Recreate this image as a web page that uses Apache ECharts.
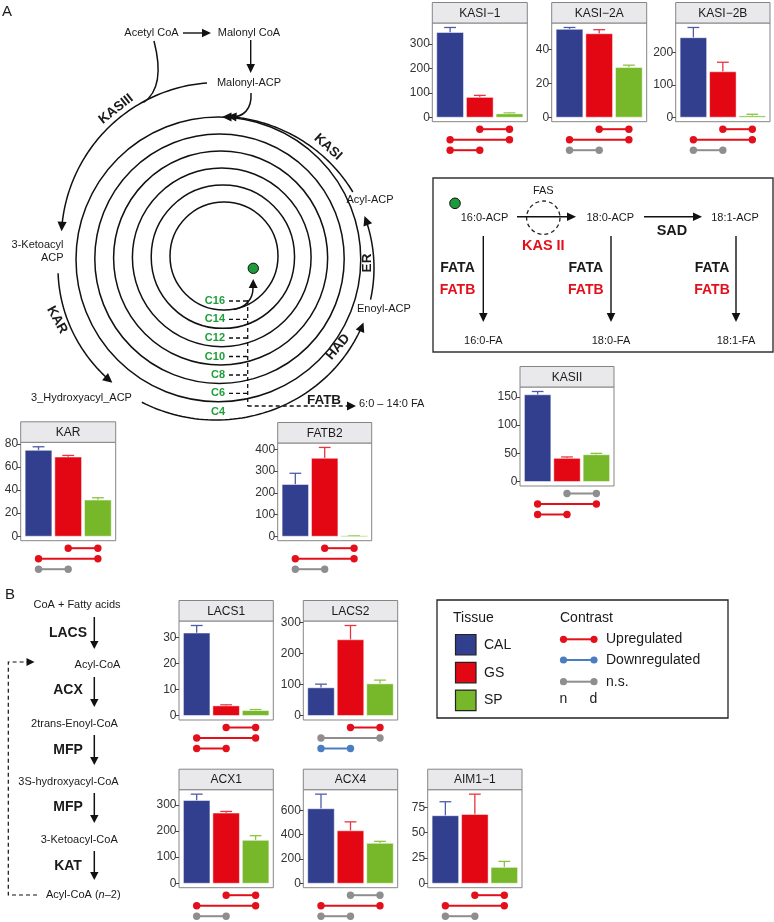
<!DOCTYPE html>
<html><head><meta charset="utf-8">
<script src="https://cdn.jsdelivr.net/npm/echarts@6.0.0/dist/echarts.min.js"></script>
<style>html,body{margin:0;padding:0;background:#fff}#c{width:774px;height:922px}</style>
</head><body><div id="c"></div>
<script>
// ---------------- DATA ----------------
const tissues = ['CAL', 'GS', 'SP'];
const contrastPairs = [[2, 3], [1, 3], [1, 2]]; // GS–SP, CAL–SP, CAL–GS
const geneNames = ['KASI−1', 'KASI−2A', 'KASI−2B', 'KASII', 'KAR', 'FATB2', 'LACS1', 'LACS2', 'ACX1', 'ACX4', 'AIM1−1'];

const kasi1Mean = [347.5, 81.4, 13.6],  kasi1Err = [368, 89.6, 17.6],   kasi1Ticks = [0, 100, 200, 300],     kasi1Sig = ['up', 'up', 'up'];
const kasi2aMean = [52.0, 49.4, 29.4],  kasi2aErr = [53.1, 51.8, 30.8], kasi2aTicks = [0, 20, 40],           kasi2aSig = ['up', 'up', 'ns'];
const kasi2bMean = [245, 140, 4],       kasi2bErr = [276.5, 169.4, 9.2], kasi2bTicks = [0, 100, 200],        kasi2bSig = ['up', 'up', 'ns'];
const kasiiMean = [153.5, 41, 47.4],    kasiiErr = [159.3, 43.4, 49.8], kasiiTicks = [0, 50, 100, 150],      kasiiSig = ['ns', 'up', 'up'];
const karMean = [74.3, 68.5, 31.3],     karErr = [77.4, 69.9, 33.3],    karTicks = [0, 20, 40, 60, 80],      karSig = ['up', 'up', 'ns'];
const fatb2Mean = [238.5, 359, 2],      fatb2Err = [290, 409, 3],       fatb2Ticks = [0, 100, 200, 300, 400], fatb2Sig = ['up', 'up', 'ns'];
const lacs1Mean = [31.7, 3.7, 1.9],     lacs1Err = [34.6, 4.1, 2.3],    lacs1Ticks = [0, 10, 20, 30],        lacs1Sig = ['up', 'up', 'up'];
const lacs2Mean = [89.2, 244, 102],     lacs2Err = [101, 290, 114],     lacs2Ticks = [0, 100, 200, 300],     lacs2Sig = ['up', 'ns', 'down'];
const acx1Mean = [316.5, 268.2, 164],   acx1Err = [340.7, 274.6, 181.8], acx1Ticks = [0, 100, 200, 300],     acx1Sig = ['up', 'up', 'ns'];
const acx4Mean = [613, 431.6, 328.4],   acx4Err = [733, 505, 344.7],    acx4Ticks = [0, 200, 400, 600],      acx4Sig = ['ns', 'up', 'ns'];
const aim1Mean = [66.8, 68.1, 15.7],    aim1Err = [80.6, 88.1, 21.6],   aim1Ticks = [0, 25, 50, 75],         aim1Sig = ['up', 'up', 'ns'];

const geneMeans = [kasi1Mean, kasi2aMean, kasi2bMean, kasiiMean, karMean, fatb2Mean, lacs1Mean, lacs2Mean, acx1Mean, acx4Mean, aim1Mean];
const geneErrs  = [kasi1Err, kasi2aErr, kasi2bErr, kasiiErr, karErr, fatb2Err, lacs1Err, lacs2Err, acx1Err, acx4Err, aim1Err];
const geneTicks = [kasi1Ticks, kasi2aTicks, kasi2bTicks, kasiiTicks, karTicks, fatb2Ticks, lacs1Ticks, lacs2Ticks, acx1Ticks, acx4Ticks, aim1Ticks];
const geneSigs  = [kasi1Sig, kasi2aSig, kasi2bSig, kasiiSig, karSig, fatb2Sig, lacs1Sig, lacs2Sig, acx1Sig, acx4Sig, aim1Sig];

// ---------------- LAYOUT / STYLE ----------------
const panelBox = [ // left, top, width, height of plotting panel
  [432.3, 23, 95, 98.7], [551.7, 23, 95, 98.7], [675.7, 23, 94.3, 98.7],
  [520, 387, 94, 99], [20.7, 442.3, 95, 98.4], [277.7, 443, 94, 97.7],
  [179, 621, 94.3, 99], [303.3, 621, 94.4, 99],
  [179, 789.7, 94.3, 98], [303.3, 789.7, 94.4, 98], [427.7, 789.7, 94.3, 98]
];
const STRIP_H = 20.5;
const FF = "'Liberation Sans', Arial, Helvetica, sans-serif";
const tissueColor = ['#323f8e', '#e30613', '#77b82b'];
const errColor = ['#4d5ca8', '#e83540', '#8cc343'];
const sigColor = { up: '#e3101b', down: '#4a7dc2', ns: '#8e8e8e' };

const chart = echarts.init(document.getElementById('c'), null, { renderer: 'canvas', width: 774, height: 922 });

const grids = [], xAxes = [], yAxes = [], series = [], G = [];

geneNames.forEach((name, i) => {
  const [L, Tp, W, H] = panelBox[i];
  const mx = Math.max(...geneErrs[i]);
  grids.push({ left: L, top: Tp, width: W, height: H, show: true, borderColor: '#858585', borderWidth: 1, backgroundColor: '#fff' });
  grids.push({ left: L, top: Tp + H + 2.25, width: W, height: 31.5, show: false });
  xAxes.push({ gridIndex: 2 * i, type: 'value', min: 0.4, max: 3.6, show: false });
  xAxes.push({ gridIndex: 2 * i + 1, type: 'value', min: 0.4, max: 3.6, show: false });
  yAxes.push({
    gridIndex: 2 * i, type: 'value', min: -0.05 * mx, max: 1.05 * mx,
    axisLine: { show: false }, splitLine: { show: false },
    axisTick: { show: true, length: 3.5, customValues: geneTicks[i], lineStyle: { color: '#444', width: 1 } },
    axisLabel: { customValues: geneTicks[i], fontSize: 12, color: '#333', margin: 2.5, fontFamily: FF }
  });
  yAxes.push({ gridIndex: 2 * i + 1, type: 'value', min: 0.5, max: 3.5, inverse: true, show: false });

  series.push({
    type: 'custom', xAxisIndex: 2 * i, yAxisIndex: 2 * i,
    data: geneMeans[i].map((m, j) => [j + 1, m, geneErrs[i][j], j]),
    renderItem: (params, api) => {
      const x = api.value(0), m = api.value(1), e = api.value(2), j = api.value(3);
      const p0 = api.coord([x - 0.45, 0]), p1 = api.coord([x + 0.45, m]);
      const pm = api.coord([x, m]), pe = api.coord([x, e]);
      const cw = api.size([0.4, 0])[0];
      return { type: 'group', children: [
        { type: 'line', shape: { x1: pm[0], y1: pm[1], x2: pe[0], y2: pe[1] }, style: { stroke: errColor[j], lineWidth: 1.3 } },
        { type: 'line', shape: { x1: pe[0] - cw / 2, y1: pe[1], x2: pe[0] + cw / 2, y2: pe[1] }, style: { stroke: errColor[j], lineWidth: 1.3 } },
        { type: 'rect', shape: { x: p0[0], y: p1[1], width: p1[0] - p0[0], height: Math.max(p0[1] - p1[1], 0.8) },
          style: { fill: tissueColor[j], stroke: 'rgba(255,255,255,0.55)', lineWidth: 0.9 } }
      ] };
    }
  });
  series.push({
    type: 'custom', xAxisIndex: 2 * i + 1, yAxisIndex: 2 * i + 1, clip: false,
    data: geneSigs[i].map((s, r) => [r + 1, contrastPairs[r][0], contrastPairs[r][1]]),
    renderItem: (params, api) => {
      const r = api.value(0), a = api.value(1), b = api.value(2);
      const c = sigColor[geneSigs[i][params.dataIndex]];
      const pa = api.coord([a, r]), pb = api.coord([b, r]);
      return { type: 'group', children: [
        { type: 'line', shape: { x1: pa[0], y1: pa[1], x2: pb[0], y2: pb[1] }, style: { stroke: c, lineWidth: 2 } },
        { type: 'circle', shape: { cx: pa[0], cy: pa[1], r: 3.7 }, style: { fill: c } },
        { type: 'circle', shape: { cx: pb[0], cy: pb[1], r: 3.7 }, style: { fill: c } }
      ] };
    }
  });
  G.push({ type: 'rect', shape: { x: L, y: Tp - STRIP_H, width: W, height: STRIP_H }, style: { fill: '#e9e9ec', stroke: '#858585', lineWidth: 1 }, z: 5 });
  G.push(txt(L + W / 2, Tp - STRIP_H / 2 + 0.5, name, { fs: 12, c: '#1a1a1a' }));
});

// ---------------- DIAGRAM HELPERS ----------------
function txt(x, y, text, o = {}) {
  return { type: 'text', x, y, rotation: (o.rot || 0) * Math.PI / 180, z: 20,
    style: { text, fontSize: o.fs || 11, fontWeight: o.fw || 'normal', fill: o.c || '#1a1a1a', fontFamily: FF,
      align: o.al || 'center', verticalAlign: 'middle', textAlign: o.al || 'center', textVerticalAlign: 'middle', rich: o.rich } };
}
function T(x, y, text, o) { G.push(txt(x, y, text, o)); }
function line(x1, y1, x2, y2, o = {}) {
  G.push({ type: 'line', z: 15, shape: { x1, y1, x2, y2 }, style: { stroke: o.c || '#111', lineWidth: o.lw || 1.4, lineDash: o.dash || null } });
}
function head(tx, ty, dx, dy, len = 9, hw = 4.3, c = '#111') {
  const d = Math.hypot(dx, dy); dx /= d; dy /= d;
  const bx = tx - dx * len, by = ty - dy * len;
  G.push({ type: 'polygon', z: 16, shape: { points: [[tx, ty], [bx - dy * hw, by + dx * hw], [bx + dy * hw, by - dx * hw]] }, style: { fill: c } });
  return [bx, by];
}
function arrow(x1, y1, x2, y2, o = {}) {
  const len = o.len || 9, d = Math.hypot(x2 - x1, y2 - y1);
  const b = head(x2, y2, x2 - x1, y2 - y1, len, o.hw || 4.3, o.c || '#111');
  line(x1, y1, b[0] + (x2 - x1) / d, b[1] + (y2 - y1) / d, o);
}
function bez(p0, p1, p2, p3, o = {}) {
  G.push({ type: 'bezierCurve', z: 15, shape: { x1: p0[0], y1: p0[1], cpx1: p1[0], cpy1: p1[1], cpx2: p2[0], cpy2: p2[1], x2: p3[0], y2: p3[1] },
    style: { stroke: o.c || '#111', lineWidth: o.lw || 1.4, fill: null } });
}
function poly(pts, o = {}) {
  G.push({ type: 'polyline', z: 15, shape: { points: pts }, style: { stroke: o.c || '#111', lineWidth: o.lw || 1.4, fill: null, lineDash: o.dash || null } });
}
// elliptical arc with decreasing angle (deg), arrowhead at th1
function arcArrow(C, th0, th1, arrowHead) {
  const pt = th => { const t = th * Math.PI / 180; return [C.cx + C.rx * Math.cos(t), C.cy + C.ry * Math.sin(t)]; };
  const stop = arrowHead ? th1 + 9.5 / C.rx * 180 / Math.PI * 0.95 : th1;
  const pts = [], n = 60;
  for (let s = 0; s <= n; s++) pts.push(pt(th0 + (stop - th0) * s / n));
  poly(pts, { lw: 1.5 });
  if (arrowHead) {
    const t = th1 * Math.PI / 180, tip = pt(th1);
    head(tip[0], tip[1], C.rx * Math.sin(t), -C.ry * Math.cos(t), 9.5, 4.6);
  }
}

// ---------------- PANEL A: FAS cycle ----------------
T(7, 12, 'A', { fs: 15 });
T(151.5, 33, 'Acetyl CoA');
arrow(183, 33, 211, 33);
T(249, 33, 'Malonyl CoA');
arrow(250.7, 40, 250.7, 73);
T(249, 83, 'Malonyl-ACP');
// KASIII arc: Malonyl-ACP -> 3-Ketoacyl ACP
const K3 = { cx: 218.8, cy: 240, rx: 157.5, ry: 157.5 };
arcArrow(K3, 265.7, 183.2, true);
// Acetyl CoA curve joining KASIII arc
bez([154, 41], [162, 72], [159, 92], [143.5, 102.5], { lw: 1.5 });
// Malonyl-ACP into the cycle
bez([251, 93], [252, 110], [243, 117], [231, 117], { lw: 1.5 });
head(222, 117, -1, 0, 9.5, 4.6);
// nested rings (C16 ... C6)
for (let k = 0; k < 6; k++) {
  const top = 202 - 17 * k, bot = 310 + 18.35 * k, left = 170 - 18.8 * k;
  const r = (bot - top) / 2;
  G.push({ type: 'circle', z: 14, shape: { cx: left + r, cy: (top + bot) / 2, r }, style: { stroke: '#111', lineWidth: 1.5, fill: null } });
}
// outer (C4) cycle arcs
const E = { cx: 216, cy: 268, rx: 158, ry: 152 };
arcArrow(E, 178, 131, true);   // KAR
arcArrow(E, 118, 21, true);    // HAD
arcArrow(E, 12, -20, true);    // ER
arcArrow(E, -30, -86, true);   // KASI
// enzyme labels
T(116, 109, 'KASIII', { fw: 'bold', fs: 13.5, rot: 38 });
T(328, 147, 'KASI', { fw: 'bold', fs: 13.5, rot: -42 });
T(57, 320, 'KAR', { fw: 'bold', fs: 13.5, rot: -61 });
T(338, 347, 'HAD', { fw: 'bold', fs: 13.5, rot: 50 });
T(367.5, 263, 'ER', { fw: 'bold', fs: 13.5, rot: 90 });
T(370, 200, 'Acyl-ACP');
T(357, 309, 'Enoyl-ACP', { al: 'left' });
T(63.5, 245, '3-Ketoacyl', { al: 'right' });
T(63.5, 258, 'ACP', { al: 'right' });
T(81.5, 397.5, '3_Hydroxyacyl_ACP');
// green dot + hook
G.push({ type: 'circle', z: 17, shape: { cx: 253.3, cy: 268.3, r: 5.2 }, style: { fill: '#1d9a3b', stroke: '#111', lineWidth: 1 } });
bez([234, 309.5], [247, 307], [253, 298], [253, 288], { lw: 1.5 });
head(253.2, 279, 0, -1, 9, 4.5);
// carbon labels
const cLabels = ['C16', 'C14', 'C12', 'C10', 'C8', 'C6', 'C4'];
const cY = [301, 319.3, 338, 356.5, 375, 393.3, 411.7];
cLabels.forEach((l, k) => {
  T(225, cY[k], l, { al: 'right', fw: 'bold', c: '#1f9e3a', fs: 11 });
  if (k < 6) line(229, cY[k], 247.7, cY[k], { dash: [4, 3], lw: 1.3 });
});
line(247.7, 300, 247.7, 406, { dash: [4, 3], lw: 1.3 });
line(247.7, 406, 347, 406, { dash: [4, 3], lw: 1.3 });
head(356, 406, 1, 0, 9, 4.6);
T(324, 400, 'FATB', { fw: 'bold', fs: 13.5 });
T(359, 404, '6:0 – 14:0 FA', { al: 'left' });

// ---------------- FAS / KAS II box ----------------
G.push({ type: 'rect', z: 12, shape: { x: 433, y: 178, width: 340, height: 174 }, style: { fill: null, stroke: '#333', lineWidth: 1.4 } });
G.push({ type: 'circle', z: 17, shape: { cx: 455, cy: 203.3, r: 5.3 }, style: { fill: '#1d9a3b', stroke: '#111', lineWidth: 1 } });
T(484.5, 217.5, '16:0-ACP');
T(610.3, 217.5, '18:0-ACP');
T(735, 217.5, '18:1-ACP');
arrow(517, 216.7, 576, 216.7);
arrow(644, 216.7, 702, 216.7);
G.push({ type: 'circle', z: 14, shape: { cx: 543.3, cy: 217.7, r: 16.7 }, style: { fill: null, stroke: '#222', lineWidth: 1.3, lineDash: [4, 3] } });
T(543.3, 191, 'FAS');
T(543.3, 246, 'KAS II', { fw: 'bold', fs: 14.5, c: '#e3101b' });
T(672, 231, 'SAD', { fw: 'bold', fs: 14.5 });
[[483.3, 457.5, '16:0-FA'], [611, 585.8, '18:0-FA'], [736, 712, '18:1-FA']].forEach(([ax, lx, lab]) => {
  arrow(ax, 236, ax, 322);
  T(lx, 268.5, 'FATA', { fw: 'bold', fs: 14 });
  T(lx, 290.5, 'FATB', { fw: 'bold', fs: 14, c: '#e3101b' });
  T(ax, 341, lab);
});

// ---------------- PANEL B ----------------
T(10, 595, 'B', { fs: 15 });
T(77, 605, 'CoA + Fatty acids');
const bSteps = [['LACS', 617, 649, 633], ['ACX', 677, 707, 690], ['MFP', 735, 765, 750], ['MFP', 793, 823, 807], ['KAT', 851, 880, 866.5]];
bSteps.forEach(([lab, y1, y2, ly]) => { arrow(94.3, y1, 94.3, y2, { len: 8, hw: 4.2, lw: 1.5 }); T(68, ly, lab, { fw: 'bold', fs: 14 }); });
T(97.5, 665, 'Acyl-CoA');
T(74.5, 724.3, '2trans-Enoyl-CoA');
T(68.5, 781.7, '3S-hydroxyacyl-CoA');
T(79.2, 840, '3-Ketoacyl-CoA');
T(83.3, 895, '{a|Acyl-CoA (}{i|n}{a|–2)}', { rich: { a: { fontSize: 11, fontFamily: FF, fill: '#1a1a1a', color: '#1a1a1a' }, i: { fontSize: 11, fontFamily: FF, fontStyle: 'italic', fill: '#1a1a1a', color: '#1a1a1a' } } });
poly([[37, 895], [8.3, 895], [8.3, 662], [27, 662]], { dash: [4, 3], lw: 1.2 });
head(34.5, 662, 1, 0, 8, 4);

// ---------------- LEGEND ----------------
G.push({ type: 'rect', z: 12, shape: { x: 437, y: 600, width: 291, height: 118 }, style: { fill: null, stroke: '#222', lineWidth: 1.3 } });
T(453, 618.5, 'Tissue', { al: 'left', fs: 14 });
T(560, 618.5, 'Contrast', { al: 'left', fs: 14 });
tissues.forEach((t, j) => {
  const y = 634.5 + j * 27.8;
  G.push({ type: 'rect', z: 13, shape: { x: 455.5, y, width: 20.5, height: 20.5 }, style: { fill: tissueColor[j], stroke: '#222', lineWidth: 1.2 } });
  T(484, y + 10.5, t, { al: 'left', fs: 14 });
});
[['up', 'Upregulated', 639.3], ['down', 'Downregulated', 660], ['ns', 'n.s.', 681.7]].forEach(([k, lab, y]) => {
  line(563.5, y, 594, y, { c: sigColor[k], lw: 2 });
  G.push({ type: 'circle', z: 16, shape: { cx: 563.5, cy: y, r: 3.6 }, style: { fill: sigColor[k] } });
  G.push({ type: 'circle', z: 16, shape: { cx: 594, cy: y, r: 3.6 }, style: { fill: sigColor[k] } });
  T(606, y, lab, { al: 'left', fs: 14 });
});
T(563.5, 699.5, 'n', { fs: 14 });
T(593.5, 699.5, 'd', { fs: 14 });

chart.setOption({
  animation: false,
  backgroundColor: '#fff',
  textStyle: { fontFamily: FF },
  grid: grids, xAxis: xAxes, yAxis: yAxes, series,
  graphic: { elements: G }
});
</script></body></html>
